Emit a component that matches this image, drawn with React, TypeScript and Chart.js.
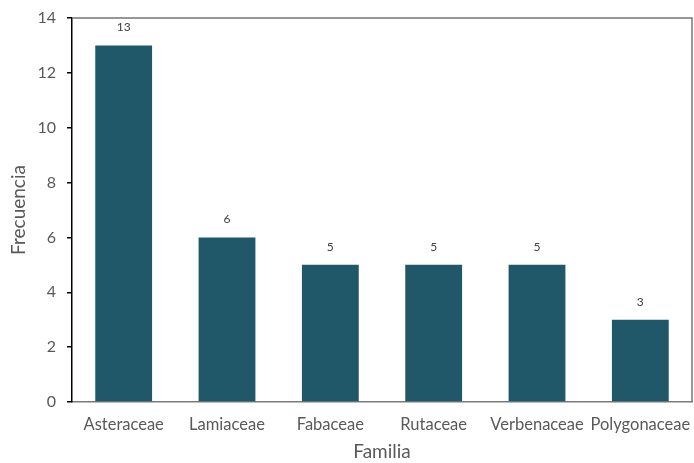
import React, { useEffect, useRef } from "react";
import { Chart, registerables } from "chart.js";

Chart.register(...registerables);

const familias = ["Asteraceae", "Lamiaceae", "Fabaceae", "Rutaceae", "Verbenaceae", "Polygonaceae"];
const frecuencias = [13, 6, 5, 5, 5, 3];
const yTicks = [0, 2, 4, 6, 8, 10, 12, 14];

const FONT = "Lato, 'Open Sans', sans-serif";
const BAR_COLOR = "#205869";
const TEXT_COLOR = "#595959";

// Gray frame around the plot area (top and right edges)
const framePlugin = {
  id: "plotFrame",
  afterDraw(chart: any) {
    const { ctx, chartArea } = chart;
    ctx.save();
    ctx.strokeStyle = "#767676";
    ctx.lineWidth = 1.5;
    ctx.beginPath();
    ctx.moveTo(chartArea.left, chartArea.top);
    ctx.lineTo(chartArea.right, chartArea.top);
    ctx.lineTo(chartArea.right, chartArea.bottom);
    ctx.stroke();
    ctx.restore();
  },
};

// Value labels above each bar
const valueLabelPlugin = {
  id: "valueLabels",
  afterDatasetsDraw(chart: any) {
    const { ctx } = chart;
    const meta = chart.getDatasetMeta(0);
    const data = chart.data.datasets[0].data as number[];
    ctx.save();
    ctx.font = `12px ${FONT}`;
    ctx.fillStyle = "#404040";
    ctx.textAlign = "center";
    ctx.textBaseline = "middle";
    meta.data.forEach((bar: any, i: number) => {
      ctx.fillText(String(data[i]), bar.x, bar.y - 18);
    });
    ctx.restore();
  },
};

export default function App() {
  const canvasRef = useRef<HTMLCanvasElement | null>(null);

  useEffect(() => {
    document.body.style.margin = "0";
    const canvas = canvasRef.current;
    if (!canvas) return;
    const chart = new Chart(canvas, {
      type: "bar",
      data: {
        labels: familias,
        datasets: [
          {
            data: frecuencias,
            backgroundColor: BAR_COLOR,
            borderWidth: 0,
            categoryPercentage: 1,
            barPercentage: 0.55,
          },
        ],
      },
      options: {
        animation: false,
        responsive: false,
        devicePixelRatio: 1,
        layout: { padding: { top: 18, right: 2, left: 0, bottom: 0 } },
        plugins: {
          legend: { display: false },
          tooltip: { enabled: false },
        },
        scales: {
          x: {
            grid: { display: false, drawTicks: false },
            border: { display: true, color: "#7a7a7a", width: 1.5 },
            ticks: {
              color: TEXT_COLOR,
              font: { family: FONT, size: 16.5 },
              padding: 13,
              maxRotation: 0,
              autoSkip: false,
            },
            title: {
              display: true,
              text: "Familia",
              color: TEXT_COLOR,
              font: { family: FONT, size: 19 },
              padding: 0,
            },
            afterFit(scale: any) {
              scale.height = 61;
              scale.paddingLeft = 0;
              scale.paddingRight = 0;
            },
          },
          y: {
            min: 0,
            max: 14,
            afterBuildTicks(scale: any) {
              scale.ticks = yTicks.map((v) => ({ value: v }));
            },
            grid: {
              drawOnChartArea: false,
              drawTicks: true,
              tickLength: 5,
              color: "#000000",
              lineWidth: 1.5,
            },
            border: { display: true, color: "#000000", width: 1.5 },
            ticks: {
              color: TEXT_COLOR,
              font: { family: FONT, size: 16 },
              padding: 11,
            },
            title: {
              display: true,
              text: "Frecuencia",
              color: TEXT_COLOR,
              font: { family: FONT, size: 19 },
              padding: { top: 7, bottom: 0 },
            },
            afterFit(scale: any) {
              scale.width = 72;
              scale.paddingTop = 0;
              scale.paddingBottom = 0;
            },
          },
        },
      },
      plugins: [framePlugin, valueLabelPlugin],
    });
    return () => chart.destroy();
  }, []);

  return (
    <div style={{ position: "absolute", left: 0, top: 0, width: 694, height: 463, background: "#ffffff" }}>
      <canvas ref={canvasRef} width={694} height={463} style={{ display: "block" }} />
    </div>
  );
}
